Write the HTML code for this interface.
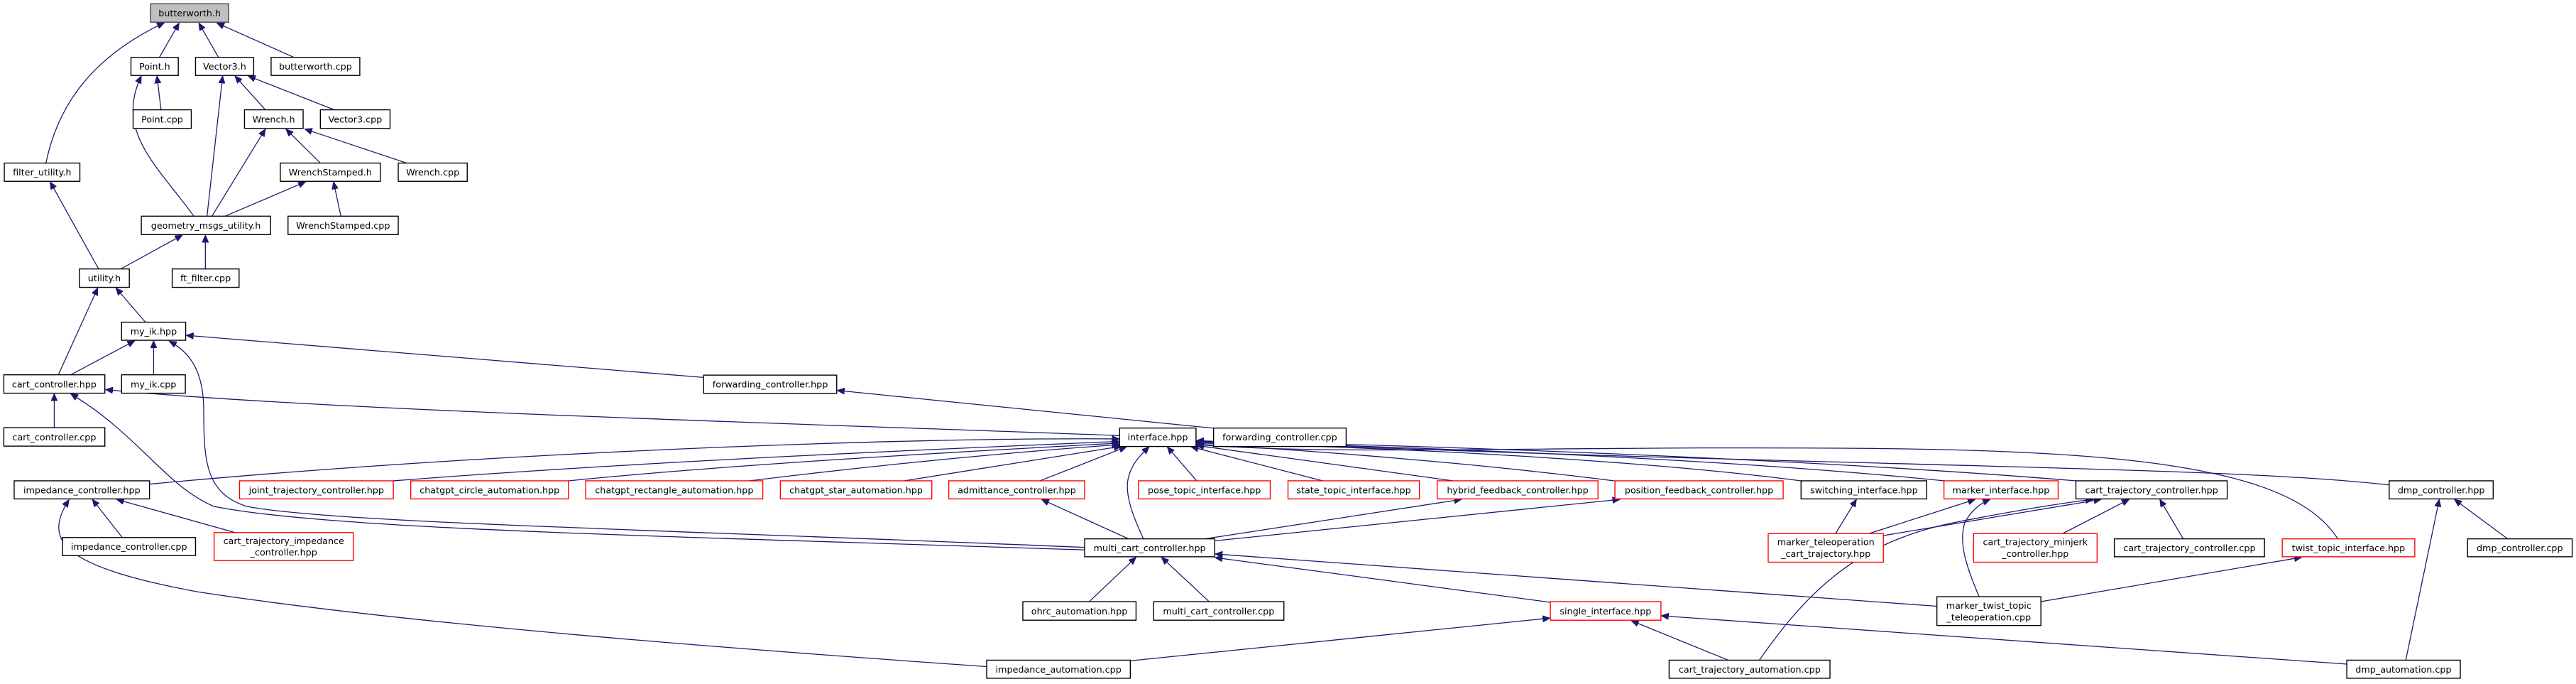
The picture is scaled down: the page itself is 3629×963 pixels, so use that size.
<!DOCTYPE html>
<html><head><meta charset="utf-8"><style>
html,body{margin:0;padding:0;background:#fff;}
svg{display:block;}
text{font-family:"DejaVu Sans","Liberation Sans",sans-serif;font-size:5.5px;fill:#000;text-anchor:middle;}
.n{fill:#fff;stroke:#000;stroke-width:0.6;}
.r{fill:#fff;stroke:#f00;stroke-width:0.6;}
.g{fill:#bfbfbf;stroke:#444;stroke-width:0.6;}
.e{fill:none;stroke:#191970;stroke-width:0.55;marker-end:url(#ah);}
</style></head><body>
<svg width="3629" height="963" viewBox="0 0 1568 416.1" xmlns="http://www.w3.org/2000/svg">
<defs><marker id="ah" markerUnits="userSpaceOnUse" markerWidth="5" markerHeight="4" refX="4.5" refY="2" orient="auto"><path d="M0,0 L4.6,2 L0,4 z" fill="#191970" stroke="#191970" stroke-width="0.3"/></marker></defs>
<g>
<path class="e" d="M28,99 C35,65 55,35 100,13.8"/>
<path class="e" d="M97,34.9 L109,14"/>
<path class="e" d="M133,34.9 L121,14"/>
<path class="e" d="M179,34.9 L132,14"/>
<path class="e" d="M98,66.8 L95.5,46.2"/>
<path class="e" d="M118,131.5 C95,100 70,80 86,46.2"/>
<path class="e" d="M126,131.5 L135.5,46.2"/>
<path class="e" d="M161.5,66.8 L143,46.2"/>
<path class="e" d="M203.5,66.8 L151,46.2"/>
<path class="e" d="M129,131.5 L161.5,78.5"/>
<path class="e" d="M195,99.2 L174,78.5"/>
<path class="e" d="M247.5,99.2 L185.5,78.5"/>
<path class="e" d="M137,131.5 L186,110.6"/>
<path class="e" d="M207.5,131.5 L203,110.6"/>
<path class="e" d="M60,163.6 L30.5,110.6"/>
<path class="e" d="M73.5,163.6 L111,143"/>
<path class="e" d="M125,163.6 L125,143"/>
<path class="e" d="M35.5,228 L59.5,175.1"/>
<path class="e" d="M88.5,196 L70.5,175.1"/>
<path class="e" d="M43,228 L82,207.3"/>
<path class="e" d="M93.5,228 L93.5,207.3"/>
<path class="e" d="M428.3,229.6 L113.3,204"/>
<path class="e" d="M660.2,333 C400,322 200,318 150,308 C125,300 124,280 124,250 C124,225 115,214 103,207.5"/>
<path class="e" d="M660.2,334.5 C400,326 200,322 130,308 C100,295 85,265 43,239.5"/>
<path class="e" d="M33,260.2 L33,239.5"/>
<path class="e" d="M681.5,265 C500,258 200,250 64.2,237"/>
<path class="e" d="M738.7,260.5 L509.6,237.5"/>
<path class="e" d="M91,294.5 C300,275 550,266 681.3,267"/>
<path class="e" d="M239.4,292.5 C400,280 600,272 681.3,268.5"/>
<path class="e" d="M346,292.5 C450,282 600,274 681.3,269.5"/>
<path class="e" d="M456,292.5 C550,281 630,274 681.3,270.5"/>
<path class="e" d="M550.3,292.5 L682.5,271.5"/>
<path class="e" d="M633,292.5 L685.7,271.8"/>
<path class="e" d="M696,327.8 C690,315 684,300 687,290 C689,282 694,277 699.5,271.8"/>
<path class="e" d="M728.4,292.5 L710.5,271.8"/>
<path class="e" d="M805.2,292.5 L725,271.8"/>
<path class="e" d="M884.5,292.5 L728.3,271"/>
<path class="e" d="M982.6,292.5 C900,282 800,274 728.3,270.2"/>
<path class="e" d="M1096.3,292.5 C1000,280 850,272 728.3,269.5"/>
<path class="e" d="M1183.6,292.5 C1050,279 850,271 728.3,269"/>
<path class="e" d="M1263.6,292.5 C1100,279 850,270 728.3,268.5"/>
<path class="e" d="M1454.3,295 C1350,283 1100,284 728.3,268"/>
<path class="e" d="M1423,327.8 C1390,275 1250,272 1037,272.5 C900,273 800,276 728.3,270.5"/>
<path class="e" d="M687,327.8 L634,303.8"/>
<path class="e" d="M733.5,327.8 L889.6,303.8"/>
<path class="e" d="M739.4,329 L986,303.8"/>
<path class="e" d="M74.4,327 L56.2,303.8"/>
<path class="e" d="M143.2,324 L71,303.8"/>
<path class="e" d="M600.6,405.5 C450,395 250,380 120,360 C40,345 25,330 42,304"/>
<path class="e" d="M663,366 L691.5,339"/>
<path class="e" d="M736,366 L707,339"/>
<path class="e" d="M943.7,366.4 L739.6,339.2"/>
<path class="e" d="M1179,368.8 L739.6,337"/>
<path class="e" d="M688,402 L943.5,376"/>
<path class="e" d="M1052,401.6 L993,377.6"/>
<path class="e" d="M1428.5,404 L1011.2,374.6"/>
<path class="e" d="M1117.3,324.6 L1130,303.8"/>
<path class="e" d="M1137.6,324.6 L1202.3,303.8"/>
<path class="e" d="M1204.7,363 C1197,345 1192,330 1196,318 C1200,310 1206,306 1211.4,303.8"/>
<path class="e" d="M1146.4,325.8 L1279,303.8"/>
<path class="e" d="M1255.5,324.6 L1296,303.8"/>
<path class="e" d="M1329,327.8 L1314.7,303.8"/>
<path class="e" d="M1070.9,401.6 C1100,360 1130,330 1189,318 C1230,310 1255,306 1274,303.8"/>
<path class="e" d="M1242.3,366 L1401,339"/>
<path class="e" d="M1526.4,327.8 L1494,303.8"/>
<path class="e" d="M1464.4,401.6 L1484.8,303.8"/>
</g>
<g>
<rect class="g" x="91.6" y="2.3" width="47.6" height="11.2"/><text x="115.4" y="10">butterworth.h</text>
<rect class="n" x="79.7" y="34.9" width="28.8" height="11"/><text x="94.1" y="42.4">Point.h</text>
<rect class="n" x="119" y="34.9" width="35.4" height="11"/><text x="136.7" y="42.4">Vector3.h</text>
<rect class="n" x="165" y="34.9" width="54" height="11"/><text x="192" y="42.4">butterworth.cpp</text>
<rect class="n" x="81" y="66.8" width="35.4" height="11.3"/><text x="98.7" y="74.5">Point.cpp</text>
<rect class="n" x="148.8" y="66.8" width="35.7" height="11.3"/><text x="166.6" y="74.5">Wrench.h</text>
<rect class="n" x="195" y="66.8" width="42.4" height="11.3"/><text x="216.2" y="74.5">Vector3.cpp</text>
<rect class="n" x="2.6" y="99.2" width="46" height="11.1"/><text x="25.6" y="106.8">filter_utility.h</text>
<rect class="n" x="170.6" y="99.2" width="60.9" height="11.1"/><text x="201" y="106.8">WrenchStamped.h</text>
<rect class="n" x="242.4" y="99.2" width="42" height="11.1"/><text x="263.4" y="106.8">Wrench.cpp</text>
<rect class="n" x="86" y="131.5" width="78.7" height="11.2"/><text x="125.3" y="139.1">geometry_msgs_utility.h</text>
<rect class="n" x="175.3" y="131.5" width="67.1" height="11.2"/><text x="208.8" y="139.1">WrenchStamped.cpp</text>
<rect class="n" x="48.3" y="163.6" width="30.4" height="11.2"/><text x="63.5" y="171.2">utility.h</text>
<rect class="n" x="104.8" y="163.6" width="40.7" height="11.2"/><text x="125.1" y="171.2">ft_filter.cpp</text>
<rect class="n" x="74" y="196" width="39" height="11"/><text x="93.5" y="203.5">my_ik.hpp</text>
<rect class="n" x="2.3" y="228" width="61.5" height="11.2"/><text x="33" y="235.6">cart_controller.hpp</text>
<rect class="n" x="74" y="228" width="38.8" height="11.2"/><text x="93.4" y="235.6">my_ik.cpp</text>
<rect class="n" x="428.3" y="228.2" width="81" height="11.1"/><text x="468.8" y="235.8">forwarding_controller.hpp</text>
<rect class="n" x="2.3" y="260.2" width="61.5" height="11.2"/><text x="33" y="267.8">cart_controller.cpp</text>
<rect class="n" x="681.5" y="260.4" width="46.5" height="11.2"/><text x="704.7" y="268">interface.hpp</text>
<rect class="n" x="738.7" y="260.4" width="80.7" height="11.2"/><text x="779" y="268">forwarding_controller.cpp</text>

<rect class="n" x="8.6" y="292.5" width="82.4" height="11"/><text x="49.8" y="300">impedance_controller.hpp</text>
<rect class="r" x="145.8" y="292.5" width="93.6" height="11"/><text x="192.6" y="300">joint_trajectory_controller.hpp</text>
<rect class="r" x="250" y="292.5" width="96" height="11"/><text x="298" y="300">chatgpt_circle_automation.hpp</text>
<rect class="r" x="356.5" y="292.5" width="107.8" height="11"/><text x="410.4" y="300">chatgpt_rectangle_automation.hpp</text>
<rect class="r" x="475" y="292.5" width="92.2" height="11"/><text x="521.1" y="300">chatgpt_star_automation.hpp</text>
<rect class="r" x="577.5" y="292.5" width="82.7" height="11"/><text x="618.9" y="300">admittance_controller.hpp</text>
<rect class="r" x="693" y="292.5" width="80.2" height="11"/><text x="733.1" y="300">pose_topic_interface.hpp</text>
<rect class="r" x="784" y="292.5" width="80" height="11"/><text x="824" y="300">state_topic_interface.hpp</text>
<rect class="r" x="874.8" y="292.5" width="97.9" height="11"/><text x="923.8" y="300">hybrid_feedback_controller.hpp</text>
<rect class="r" x="983" y="292.5" width="102.4" height="11"/><text x="1034.2" y="300">position_feedback_controller.hpp</text>
<rect class="n" x="1096.3" y="292.5" width="76.5" height="11"/><text x="1134.6" y="300">switching_interface.hpp</text>
<rect class="r" x="1183.3" y="292.5" width="69.5" height="11"/><text x="1218" y="300">marker_interface.hpp</text>
<rect class="n" x="1263.6" y="292.5" width="92.1" height="11"/><text x="1309.7" y="300">cart_trajectory_controller.hpp</text>
<rect class="n" x="1454.3" y="292.5" width="63.3" height="11"/><text x="1486" y="300">dmp_controller.hpp</text>

<rect class="n" x="38" y="327" width="81" height="11"/><text x="78.5" y="334.5">impedance_controller.cpp</text>
<rect class="r" x="130.3" y="324" width="84.7" height="17"/><text x="172.7" y="331">cart_trajectory_impedance</text><text x="172.7" y="338">_controller.hpp</text>
<rect class="n" x="660.2" y="327.8" width="79.2" height="10.9"/><text x="699.8" y="335.3">multi_cart_controller.hpp</text>
<rect class="r" x="1076.3" y="324.6" width="70.1" height="17.4"/><text x="1111.4" y="331.6">marker_teleoperation</text><text x="1111.4" y="338.8">_cart_trajectory.hpp</text>
<rect class="r" x="1201.3" y="324.6" width="75.2" height="17.4"/><text x="1238.9" y="331.6">cart_trajectory_minjerk</text><text x="1238.9" y="338.8">_controller.hpp</text>
<rect class="n" x="1287" y="327.8" width="91.4" height="10.9"/><text x="1332.7" y="335.3">cart_trajectory_controller.cpp</text>
<rect class="r" x="1389.2" y="327.8" width="80.7" height="10.9"/><text x="1429.5" y="335.3">twist_topic_interface.hpp</text>
<rect class="n" x="1502" y="327.8" width="63.7" height="10.9"/><text x="1533.8" y="335.3">dmp_controller.cpp</text>

<rect class="n" x="622.6" y="366" width="68.9" height="11.3"/><text x="657" y="373.7">ohrc_automation.hpp</text>
<rect class="n" x="702.2" y="366" width="79.3" height="11.3"/><text x="741.8" y="373.7">multi_cart_controller.cpp</text>
<rect class="r" x="943.7" y="366" width="67.3" height="11.3"/><text x="977.3" y="373.7">single_interface.hpp</text>
<rect class="n" x="1179" y="363" width="63.3" height="17.5"/><text x="1210.6" y="370.2">marker_twist_topic</text><text x="1210.6" y="377.4">_teleoperation.cpp</text>

<rect class="n" x="600.6" y="401.6" width="87.4" height="11"/><text x="644.3" y="409.1">impedance_automation.cpp</text>
<rect class="n" x="1016" y="401.6" width="97.9" height="11"/><text x="1065" y="409.1">cart_trajectory_automation.cpp</text>
<rect class="n" x="1428.5" y="401.6" width="69.1" height="11"/><text x="1463" y="409.1">dmp_automation.cpp</text>
</g>
</svg>
</body></html>
